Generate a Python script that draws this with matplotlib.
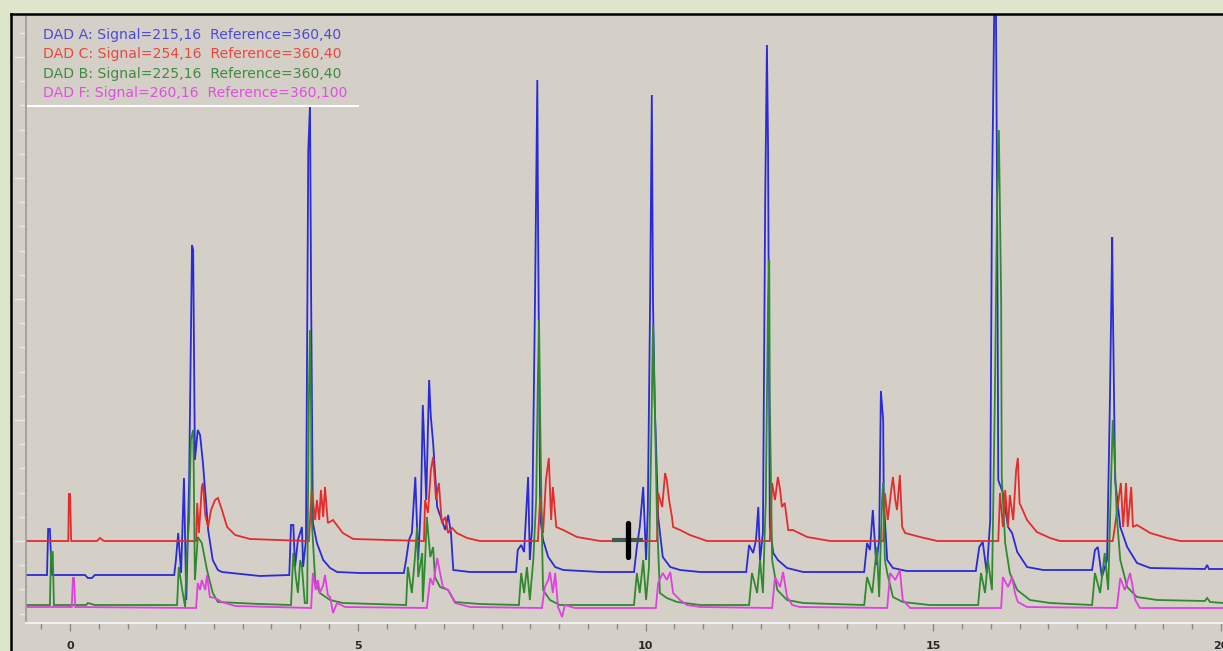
import matplotlib
matplotlib.use("Agg")
import matplotlib.pyplot as plt
from matplotlib.patches import Rectangle
from matplotlib.lines import Line2D
from matplotlib.ticker import MultipleLocator
import numpy as np

# retention time (min), signal (arbitrary units, 0 = DAD C baseline)
dad_a = [(-0.77, -34), (-0.40, -34), (-0.38, 12), (-0.35, 12), (-0.33, -19), (-0.31, -34),
         (0.26, -34), (0.31, -37), (0.38, -37), (0.43, -34), (1.81, -34),
         (1.84, -19), (1.88, 8), (1.93, -32), (1.98, 63), (2.02, -59), (2.07, 61), (2.12, 296),
         (2.14, 291), (2.17, 81), (2.22, 111), (2.26, 106), (2.31, 78), (2.40, 11), (2.48, -19),
         (2.57, -29), (2.64, -31), (3.30, -35), (3.81, -34),
         (3.84, 16), (3.88, 16), (3.91, -26), (3.96, 1), (4.03, 14), (4.05, -26), (4.10, 1),
         (4.14, 391), (4.17, 436), (4.19, 241), (4.22, 18), (4.29, -2), (4.40, -19), (4.52, -27),
         (4.64, -31), (5.04, -32), (5.80, -32),
         (5.84, -19), (5.89, 1), (5.94, 8), (6.00, 64), (6.05, -19), (6.10, 41), (6.13, 136),
         (6.19, 41), (6.24, 161), (6.27, 124), (6.31, 98), (6.38, 34), (6.46, 21), (6.52, 11),
         (6.57, 26), (6.62, 8), (6.66, -29), (6.95, -31), (7.75, -31),
         (7.78, -9), (7.84, -4), (7.89, -11), (7.96, 64), (7.99, -19), (8.03, 14), (8.08, 241),
         (8.12, 461), (8.13, 341), (8.17, 24), (8.22, 1), (8.31, -16), (8.43, -26), (8.57, -29),
         (9.21, -31), (9.80, -31),
         (9.85, -6), (9.90, 14), (9.96, 54), (10.01, -19), (10.04, 31), (10.08, 241), (10.11, 446),
         (10.13, 241), (10.16, 136), (10.18, 101), (10.22, 24), (10.30, -16), (10.43, -26),
         (10.60, -29), (10.95, -31), (11.75, -31),
         (11.80, -4), (11.87, -12), (11.92, 1), (11.96, 34), (11.99, -19), (12.04, 8), (12.08, 341),
         (12.11, 496), (12.13, 391), (12.16, 14), (12.22, -12), (12.30, -19), (12.46, -27),
         (12.74, -31), (13.80, -31),
         (13.85, -2), (13.90, -9), (13.95, 31), (14.01, -24), (14.06, 1), (14.09, 150), (14.13, 121),
         (14.14, 41), (14.20, -19), (14.30, -27), (14.54, -30), (15.74, -30),
         (15.80, -6), (15.86, -1), (15.93, -32), (15.99, 21), (16.02, 341), (16.06, 531), (16.09, 531),
         (16.11, 341), (16.13, 61), (16.21, 48), (16.30, 14), (16.37, 8), (16.46, -11), (16.63, -26),
         (16.91, -29), (17.76, -29),
         (17.81, -9), (17.86, -6), (17.93, -36), (18.02, -19), (18.07, 141), (18.11, 304), (18.12, 241),
         (18.16, 61), (18.25, 14), (18.37, -6), (18.54, -22), (18.77, -27), (19.72, -28), (19.76, -24),
         (19.79, -28), (20.04, -28)]

dad_c = [(-0.77, 0), (-0.03, 0), (-0.02, 47), (0.00, 47), (0.02, 0), (0.47, 0), (0.52, 3), (0.59, 0),
         (2.19, 0), (2.21, 38), (2.24, 8), (2.29, 54), (2.31, 58), (2.35, 26), (2.40, 14), (2.45, 31),
         (2.52, 41), (2.57, 43), (2.64, 31), (2.73, 14), (2.87, 6), (3.13, 2), (4.12, 0),
         (4.15, 0), (4.20, 51), (4.26, 21), (4.29, 41), (4.33, 21), (4.36, 51), (4.40, 24), (4.43, 54),
         (4.48, 18), (4.57, 21), (4.74, 8), (4.92, 2), (6.15, 0),
         (6.17, 41), (6.22, 28), (6.27, 71), (6.31, 84), (6.36, 41), (6.41, 58), (6.46, 18), (6.52, 24),
         (6.57, 8), (6.64, 13), (6.72, 8), (6.90, 3), (7.12, 0), (8.13, 0),
         (8.17, 44), (8.22, 8), (8.27, 61), (8.32, 83), (8.36, 21), (8.39, 54), (8.45, 14), (8.57, 11),
         (8.81, 4), (9.21, 0), (10.20, 0),
         (10.22, 48), (10.29, 34), (10.34, 68), (10.37, 61), (10.41, 41), (10.46, 24), (10.48, 14),
         (10.60, 11), (10.77, 6), (11.07, 0), (12.16, 0),
         (12.20, 58), (12.25, 41), (12.30, 64), (12.34, 51), (12.37, 34), (12.42, 38), (12.48, 11),
         (12.56, 11), (12.81, 4), (13.21, 0), (14.13, 0),
         (14.16, 48), (14.21, 21), (14.27, 51), (14.30, 64), (14.34, 41), (14.37, 31), (14.42, 66),
         (14.46, 14), (14.51, 8), (14.77, 4), (15.07, 0), (16.13, 0),
         (16.16, 48), (16.21, 14), (16.25, 51), (16.30, 14), (16.33, 46), (16.39, 21), (16.44, 71),
         (16.47, 83), (16.50, 38), (16.63, 21), (16.80, 9), (17.03, 3), (17.20, 0), (18.12, 0),
         (18.19, 28), (18.26, 58), (18.30, 14), (18.35, 58), (18.38, 14), (18.44, 54), (18.47, 14),
         (18.54, 16), (18.77, 8), (19.06, 3), (19.29, 0), (20.04, 0)]

dad_b = [(-0.77, -64), (-0.35, -64), (-0.33, -11), (-0.30, -11), (-0.28, -64), (0.28, -64),
         (0.31, -62), (0.43, -64), (1.86, -64),
         (1.89, -26), (1.95, -49), (2.00, -66), (2.03, -12), (2.07, 21), (2.10, 101), (2.14, 111),
         (2.15, 71), (2.17, -39), (2.22, 4), (2.29, -2), (2.38, -29), (2.48, -52), (2.57, -61),
         (3.30, -63), (3.84, -64),
         (3.88, -12), (3.93, -39), (3.96, -52), (4.00, -19), (4.03, -26), (4.08, -62), (4.12, -62),
         (4.15, 141), (4.17, 211), (4.19, 121), (4.20, 21), (4.26, -39), (4.34, -52), (4.52, -59),
         (4.74, -62), (5.84, -64),
         (5.87, -26), (5.94, -52), (5.99, -19), (6.03, 14), (6.05, -36), (6.12, -12), (6.13, -61),
         (6.17, -19), (6.20, 24), (6.26, -16), (6.31, -6), (6.34, -36), (6.43, -46), (6.57, -49),
         (6.69, -61), (7.12, -63), (7.80, -64),
         (7.84, -32), (7.89, -52), (7.94, -26), (7.99, -59), (8.05, -19), (8.10, 41), (8.13, 161),
         (8.15, 221), (8.17, 121), (8.20, 8), (8.22, -49), (8.34, -59), (8.51, -64), (9.80, -64),
         (9.85, -32), (9.90, -52), (9.96, -19), (10.01, -59), (10.06, -26), (10.10, 101), (10.13, 216),
         (10.16, 141), (10.20, 21), (10.25, -52), (10.37, -57), (10.55, -61), (10.95, -64), (11.80, -64),
         (11.85, -32), (11.94, -52), (11.99, -19), (12.04, -52), (12.09, 41), (12.13, 241), (12.15, 281),
         (12.16, 141), (12.20, -19), (12.29, -49), (12.46, -59), (12.74, -62), (13.80, -64),
         (13.85, -36), (13.94, -52), (14.02, -6), (14.06, -56), (14.11, 41), (14.13, 58), (14.16, -19),
         (14.20, -32), (14.30, -56), (14.47, -61), (14.94, -64), (15.78, -64),
         (15.83, -32), (15.90, -52), (15.95, -19), (16.02, -49), (16.07, 141), (16.11, 341), (16.14, 411),
         (16.18, 241), (16.19, 64), (16.25, -2), (16.33, -32), (16.46, -49), (16.68, -59), (17.03, -62),
         (17.76, -64),
         (17.81, -32), (17.90, -52), (17.98, -12), (18.04, -49), (18.09, 61), (18.12, 121), (18.16, 71),
         (18.19, 24), (18.25, -19), (18.37, -46), (18.54, -56), (18.89, -59), (19.72, -60), (19.76, -57),
         (19.81, -61), (20.04, -62)]

dad_f = [(-0.77, -66), (0.03, -66), (0.05, -37), (0.07, -37), (0.09, -66), (2.19, -67),
         (2.22, -42), (2.26, -49), (2.29, -39), (2.35, -49), (2.38, -34), (2.43, -56), (2.52, -57),
         (2.64, -61), (2.87, -65), (4.19, -67),
         (4.22, -32), (4.27, -49), (4.31, -39), (4.34, -52), (4.40, -44), (4.43, -34), (4.48, -54),
         (4.52, -56), (4.57, -72), (4.64, -62), (4.78, -66), (6.20, -67),
         (6.26, -37), (6.31, -44), (6.38, -17), (6.43, -32), (6.48, -46), (6.57, -49), (6.69, -62),
         (6.95, -66), (8.20, -67),
         (8.25, -46), (8.31, -39), (8.34, -31), (8.39, -52), (8.43, -32), (8.48, -66), (8.55, -76),
         (8.60, -64), (8.77, -67), (10.18, -67),
         (10.22, -42), (10.30, -32), (10.37, -39), (10.43, -31), (10.48, -52), (10.60, -59),
         (10.72, -64), (10.95, -66), (12.20, -67),
         (12.25, -36), (12.34, -46), (12.39, -31), (12.46, -56), (12.55, -64), (12.68, -66), (14.20, -67),
         (14.25, -32), (14.34, -39), (14.42, -29), (14.47, -59), (14.60, -67), (16.18, -67),
         (16.21, -36), (16.30, -46), (16.37, -36), (16.42, -52), (16.47, -61), (16.63, -66), (18.19, -67),
         (18.25, -37), (18.33, -49), (18.42, -32), (18.51, -59), (18.59, -67), (20.04, -67)]

legend_lines = ["DAD A: Signal=215,16  Reference=360,40",
                "DAD C: Signal=254,16  Reference=360,40",
                "DAD B: Signal=225,16  Reference=360,40",
                "DAD F: Signal=260,16  Reference=360,100"]
legend_colors = ["#4b4bd8", "#e8483e", "#3e8c3e", "#e050e0"]

x_ticks = [0, 5, 10, 15, 20]

W, H = 1223, 651
bg = "#d4d0c8"

fig = plt.figure(figsize=(W / 100, H / 100), dpi=100, facecolor=bg)

# window border
fig.patches.append(Rectangle((0, 1 - 13 / H), 1, 13 / H, transform=fig.transFigure,
                             color="#dde5cb", zorder=0))
fig.patches.append(Rectangle((0, 0), 10 / W, 1, transform=fig.transFigure,
                             color="#dde5cb", zorder=0))
fig.lines.append(Line2D([11 / W, 11 / W], [0, 1 - 13.5 / H], transform=fig.transFigure,
                        color="black", lw=1.8))
fig.lines.append(Line2D([11 / W, 1], [1 - 13.5 / H, 1 - 13.5 / H], transform=fig.transFigure,
                        color="black", lw=1.8))

ax = fig.add_axes([26 / W, 28 / H, (W - 26) / W, (623 - 15) / H])
ax.set_facecolor(bg)

series = [(dad_a, "#2a2ad6"), (dad_c, "#e42c2c"), (dad_b, "#2f8a2f"), (dad_f, "#e040e0")]
for pts, col in series:
    t, v = np.array(pts).T
    ax.plot(t, v, color=col, lw=1.3, solid_joinstyle="miter")

# mouse cursor left in the screenshot
cursor_t, cursor_v = 9.70, 1
ax.plot([cursor_t - 0.28, cursor_t + 0.26], [cursor_v, cursor_v], color="#3f5a4c", lw=3.0,
        solid_capstyle="butt")
ax.plot([cursor_t, cursor_t], [cursor_v - 17, cursor_v + 17], color="black", lw=3.8,
        solid_capstyle="round")

ax.set_xlim(-0.765, 20.035)
ax.set_ylim(-82, 526)

for s in ["top", "right"]:
    ax.spines[s].set_visible(False)
ax.spines["left"].set_color("#9a9a9a")
ax.spines["left"].set_linewidth(1.2)
ax.spines["bottom"].set_color("#f0f0f0")
ax.spines["bottom"].set_linewidth(1.5)

ax.set_xticks(x_ticks)
ax.set_xticklabels([str(x) for x in x_ticks], fontsize=8, fontweight="bold", color="#2a2a2a")
ax.xaxis.set_minor_locator(MultipleLocator(0.5))
ax.tick_params(axis="x", which="major", length=6, width=1, color="#8a8a8a", pad=7)
ax.tick_params(axis="x", which="minor", length=4, width=1, color="#8a8a8a")

ax.yaxis.set_major_locator(MultipleLocator(121))
ax.yaxis.set_minor_locator(MultipleLocator(24.2))
ax.tick_params(axis="y", which="major", length=9, width=1, color="#ebe9e4", labelleft=False)
ax.tick_params(axis="y", which="minor", length=5, width=1, color="#ebe9e4")

# legend block
for i, (txt, col) in enumerate(zip(legend_lines, legend_colors)):
    fig.text(43 / W, 1 - (35 + 19.3 * i) / H, txt, color=col, fontsize=10.1,
             family="DejaVu Sans", va="center", ha="left")
fig.lines.append(Line2D([28 / W, 358 / W], [1 - 106 / H, 1 - 106 / H], transform=fig.transFigure,
                        color="white", lw=1.5))

fig.savefig("out.png", dpi=100, facecolor=bg)
